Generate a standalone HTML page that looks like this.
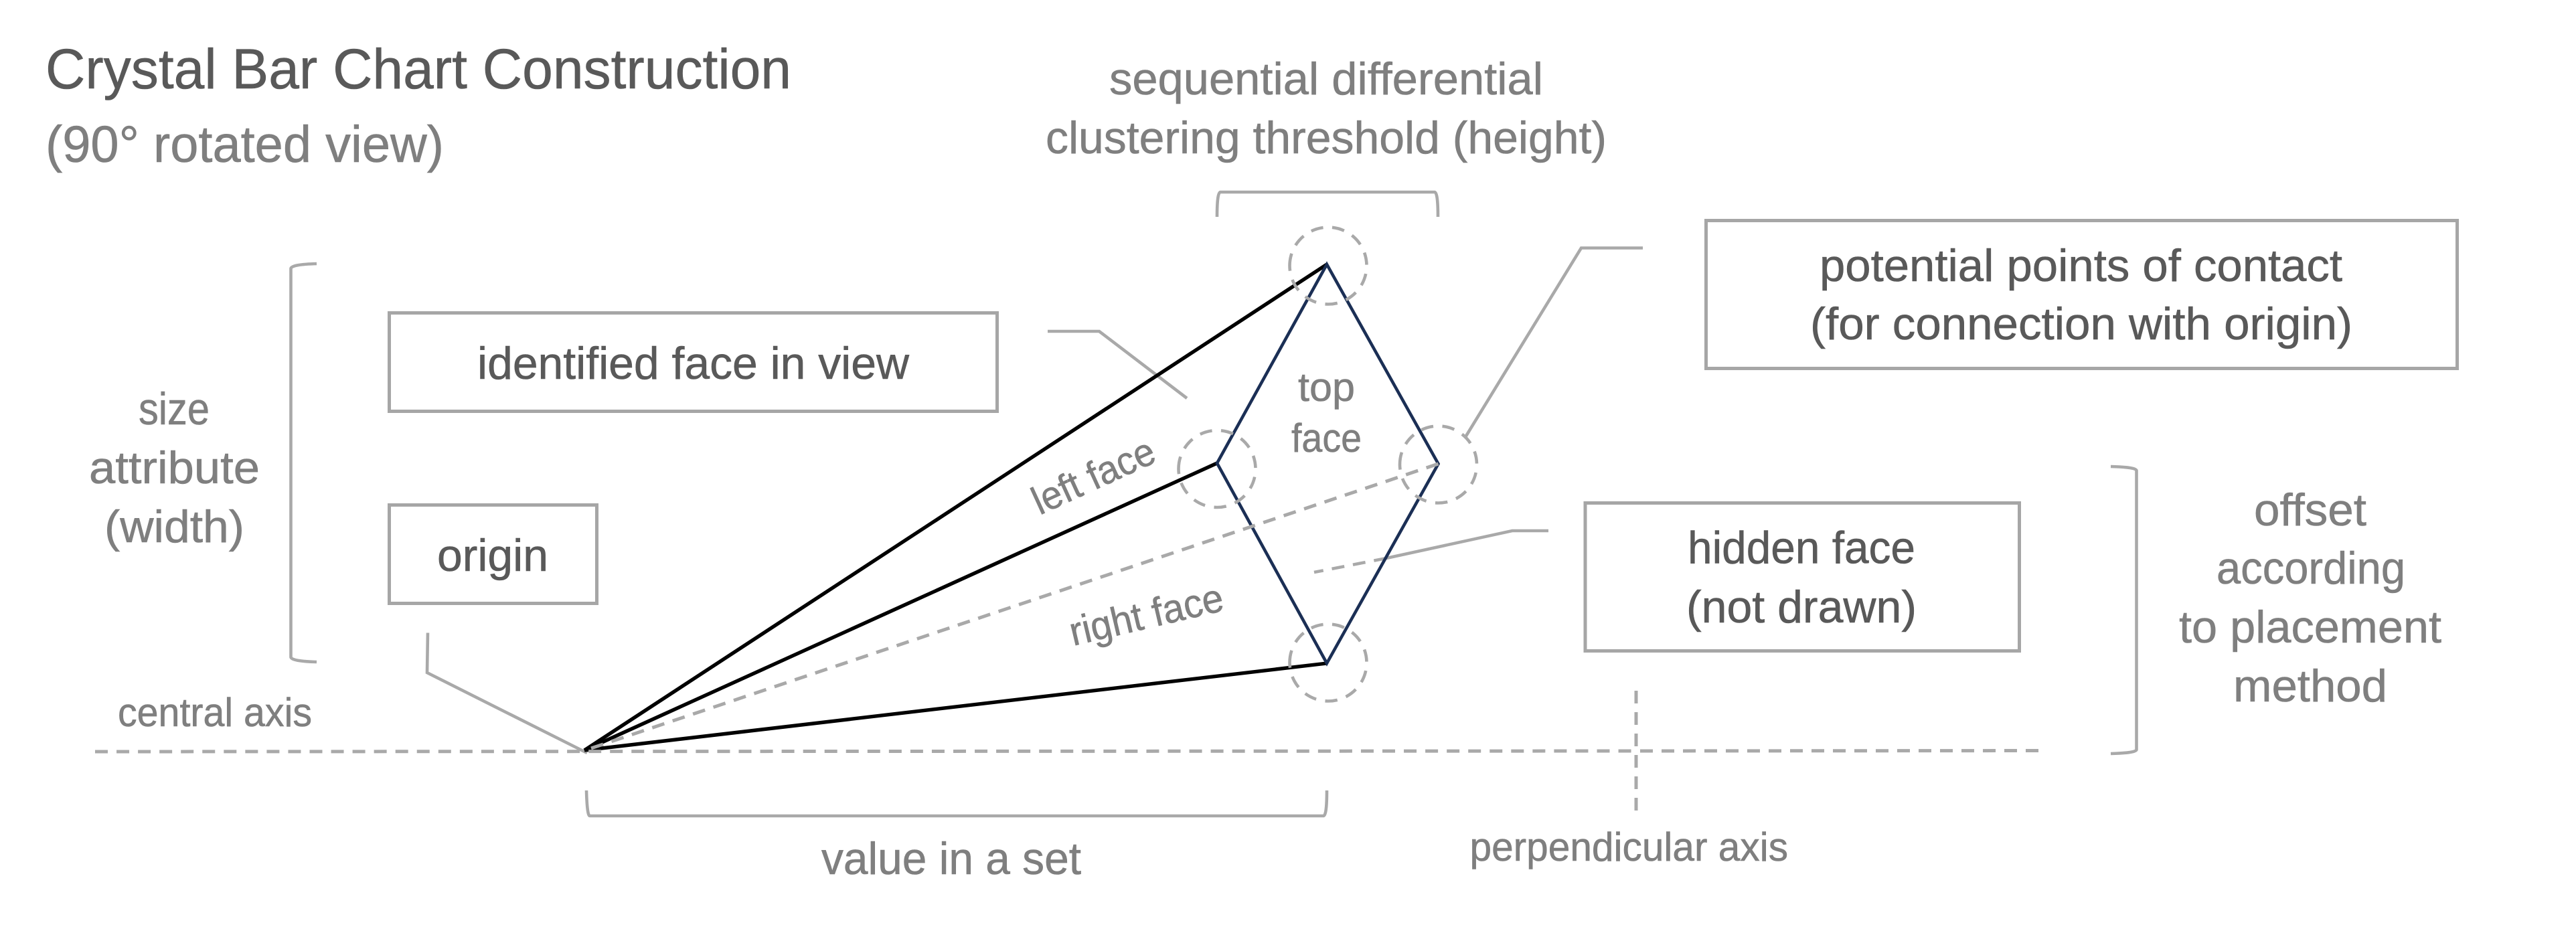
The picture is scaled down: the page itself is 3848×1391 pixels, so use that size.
<!DOCTYPE html>
<html lang="en">
<head>
<meta charset="utf-8">
<title>Crystal Bar Chart Construction</title>
<style>
html,body{margin:0;padding:0;background:#fff;width:3848px;height:1391px;overflow:hidden}
svg{display:block}
text{font-family:"Liberation Sans",sans-serif;stroke-width:.6;paint-order:stroke}
.g{fill:#7f7f7f;stroke:#7f7f7f}
.d{fill:#595959;stroke:#595959}
.l{fill:none;stroke:#a9a9a9;stroke-width:4.6}
.b{fill:none;stroke:#a6a6a6;stroke-width:5}
.k{fill:none;stroke:#000;stroke-width:5.4}
.n{fill:none;stroke:#1b2f55;stroke-width:4.6;stroke-linejoin:miter}
.c{fill:none;stroke:#a9a9a9;stroke-width:4.6;stroke-dasharray:18.5 13.6}
.a{fill:none;stroke:#a9a9a9;stroke-width:5;stroke-dasharray:19 13}
</style>
</head>
<body>
<svg xmlns="http://www.w3.org/2000/svg" width="3848" height="1391" viewBox="0 0 3848 1391">
<rect width="3848" height="1391" fill="#fff"/>

<!-- boxes -->
<rect class="b" x="581.5" y="467.5" width="908" height="147"/>
<rect class="b" x="581.5" y="754.5" width="310" height="147"/>
<rect class="b" x="2548.5" y="329.5" width="1122" height="221"/>
<rect class="b" x="2368" y="751.5" width="648.5" height="221"/>

<!-- brackets -->
<path class="l" d="M473 394 Q436 395 434.5 401 L434.5 982 Q436 988 473 989"/>
<path class="l" d="M1818 324 Q1818 287 1823 287 L2143 287 Q2148 287 2148 324"/>
<path class="l" d="M876 1181 Q877 1219 881 1219 L1977 1219 Q1982 1219 1982 1181"/>
<path class="l" d="M3153 697 Q3191 698 3191.5 703 L3191.5 1120 Q3191 1125 3153 1126"/>

<!-- leaders -->
<polyline class="l" points="639,945.5 638,1005 877,1125"/>
<polyline class="l" points="1565,495 1642,495 1773,595"/>
<polyline class="l" points="2454,370.5 2362,370.5 2189,653"/>
<polyline class="l" points="2313,793 2259,793 2071,834"/>
<line x1="2071" y1="834" x2="1963" y2="855" class="l" stroke-dasharray="19 13"/>

<!-- faces -->
<line class="k" x1="873" y1="1121" x2="1982" y2="395"/>
<line class="k" x1="873" y1="1121" x2="1818" y2="692"/>
<line class="k" x1="873" y1="1121" x2="1982" y2="991"/>
<polygon class="n" points="1982,395 2148.5,693 1982,991 1818,692"/>

<!-- axes and hidden edge -->
<line class="a" x1="142" y1="1123" x2="2437" y2="1122" style="stroke-dasharray:19 13.05"/>
<line class="a" x1="2450" y1="1122" x2="3045" y2="1121.5"/>
<line class="a" x1="883" y1="1118" x2="2148.5" y2="693" style="stroke-dasharray:19 13.1"/>
<line class="a" x1="2444" y1="1032" x2="2444" y2="1211"/>

<!-- contact circles -->
<circle class="c" cx="1984" cy="397" r="57.5" transform="rotate(180 1984 397)"/>
<circle class="c" cx="1818" cy="700.5" r="57.5" transform="rotate(180 1818 700.5)"/>
<circle class="c" cx="2148.5" cy="694" r="57.5" transform="rotate(180 2148.5 694)"/>
<circle class="c" cx="1984" cy="990" r="57.5" transform="rotate(180 1984 990)"/>

<!-- title -->
<text class="d" x="68" y="132" font-size="84" textLength="1114" lengthAdjust="spacingAndGlyphs">Crystal Bar Chart Construction</text>
<text class="g" x="68" y="242" font-size="77" textLength="595" lengthAdjust="spacingAndGlyphs">(90° rotated view)</text>

<!-- top label -->
<text class="g" x="1657" y="141" font-size="68" textLength="648" lengthAdjust="spacingAndGlyphs">sequential differential</text>
<text class="g" x="1562" y="229" font-size="68" textLength="838" lengthAdjust="spacingAndGlyphs">clustering threshold (height)</text>

<!-- left label -->
<text class="g" x="207" y="634" font-size="68" textLength="106" lengthAdjust="spacingAndGlyphs">size</text>
<text class="g" x="133" y="722" font-size="68" textLength="255" lengthAdjust="spacingAndGlyphs">attribute</text>
<text class="g" x="156" y="810" font-size="68" textLength="209" lengthAdjust="spacingAndGlyphs">(width)</text>

<!-- box text -->
<text class="d" x="713" y="566" font-size="68" textLength="645" lengthAdjust="spacingAndGlyphs">identified face in view</text>
<text class="d" x="653" y="853" font-size="68" textLength="166" lengthAdjust="spacingAndGlyphs">origin</text>
<text class="d" x="2718" y="420" font-size="68" textLength="781" lengthAdjust="spacingAndGlyphs">potential points of contact</text>
<text class="d" x="2704" y="507" font-size="68" textLength="810" lengthAdjust="spacingAndGlyphs">(for connection with origin)</text>
<text class="d" x="2521" y="841.5" font-size="68" textLength="340" lengthAdjust="spacingAndGlyphs">hidden face</text>
<text class="d" x="2519" y="930" font-size="68" textLength="344" lengthAdjust="spacingAndGlyphs">(not drawn)</text>

<!-- right label -->
<text class="g" x="3367" y="785" font-size="68" textLength="168" lengthAdjust="spacingAndGlyphs">offset</text>
<text class="g" x="3311" y="872" font-size="68" textLength="282" lengthAdjust="spacingAndGlyphs">according</text>
<text class="g" x="3255" y="960" font-size="68" textLength="392" lengthAdjust="spacingAndGlyphs">to placement</text>
<text class="g" x="3336" y="1048" font-size="68" textLength="230" lengthAdjust="spacingAndGlyphs">method</text>

<!-- axis and value labels -->
<text class="g" x="176" y="1085" font-size="60" textLength="290" lengthAdjust="spacingAndGlyphs">central axis</text>
<text class="g" x="1227" y="1306" font-size="68" textLength="388" lengthAdjust="spacingAndGlyphs">value in a set</text>
<text class="g" x="2195.5" y="1286" font-size="60" textLength="475.5" lengthAdjust="spacingAndGlyphs">perpendicular axis</text>

<!-- face labels -->
<text class="g" x="1939" y="599" font-size="60" textLength="85" lengthAdjust="spacingAndGlyphs">top</text>
<text class="g" x="1929" y="675" font-size="60" textLength="105" lengthAdjust="spacingAndGlyphs">face</text>
<text class="g" transform="translate(1553 770) rotate(-24.6)" font-size="59" textLength="195" lengthAdjust="spacingAndGlyphs">left face</text>
<text class="g" transform="translate(1603 965) rotate(-13.2)" font-size="60" textLength="234" lengthAdjust="spacingAndGlyphs">right face</text>
</svg>
</body>
</html>
